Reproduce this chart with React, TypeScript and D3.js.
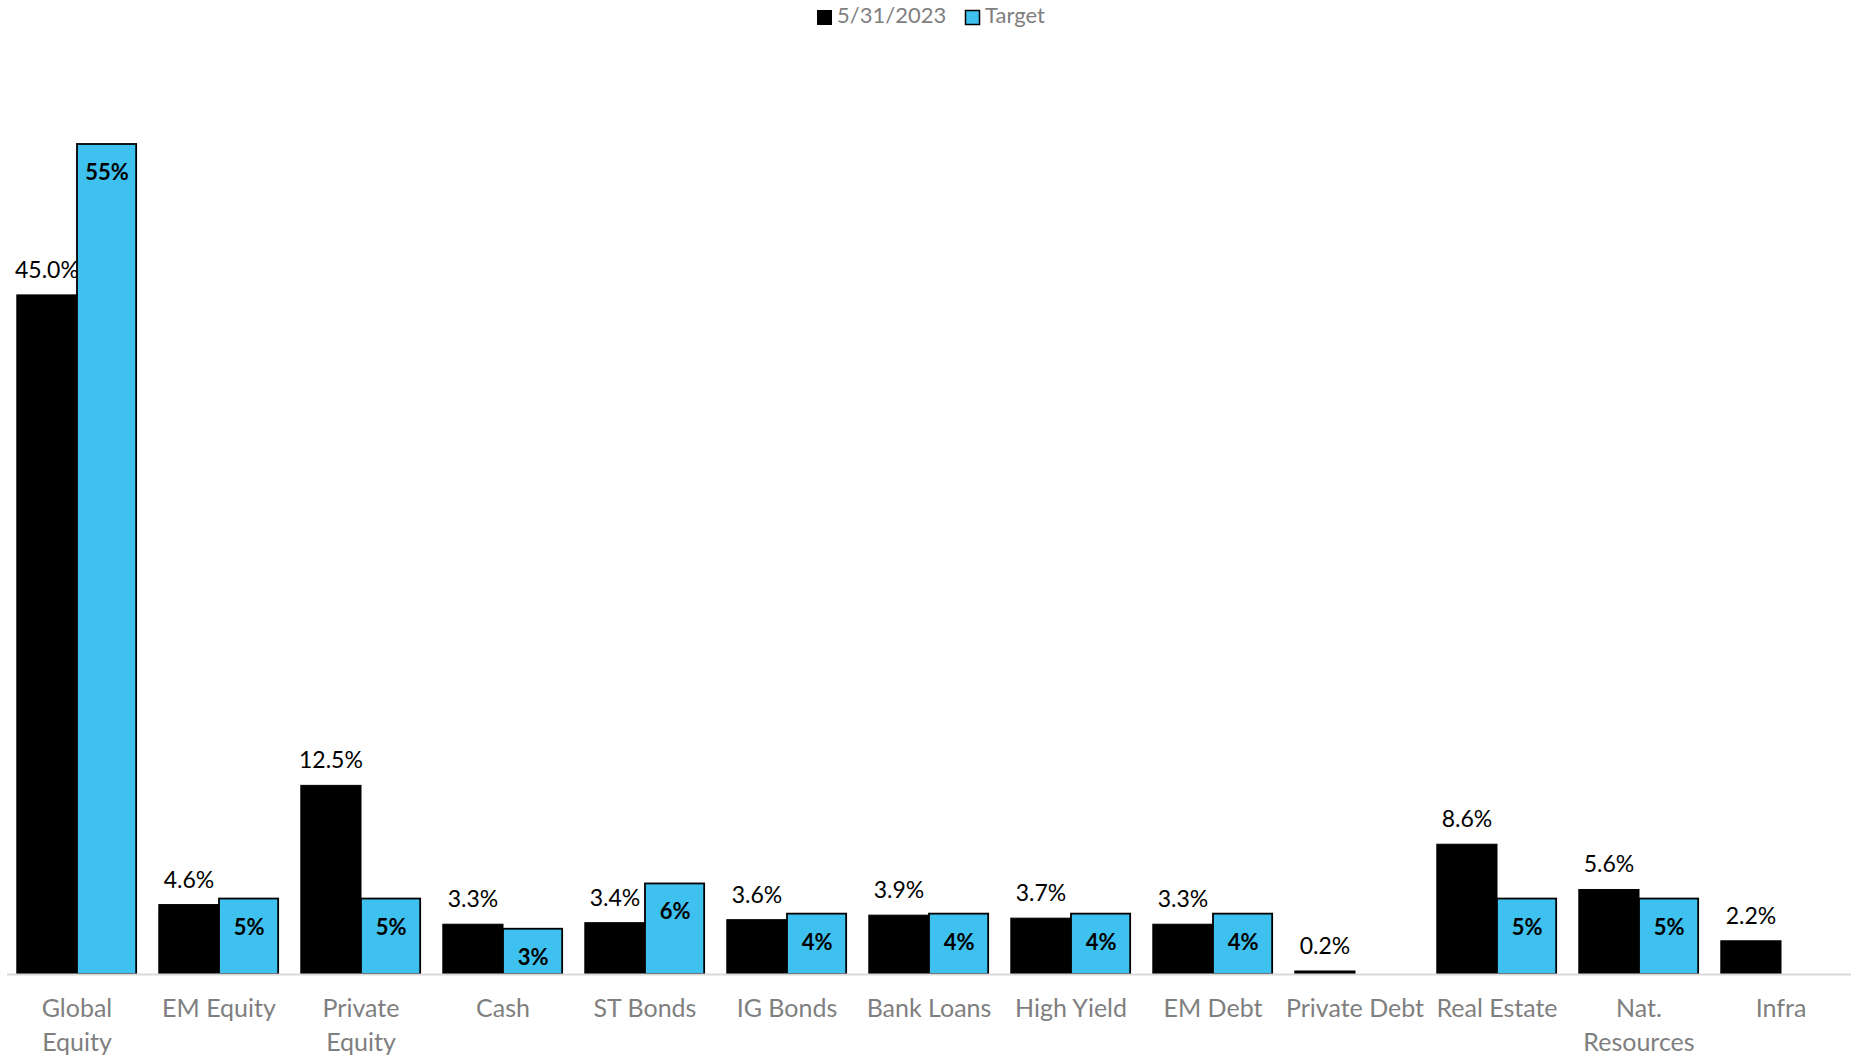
import React from "react";
import * as d3 from "d3";

const categories: string[][] = [
  ["Global", "Equity"],
  ["EM Equity"],
  ["Private", "Equity"],
  ["Cash"],
  ["ST Bonds"],
  ["IG Bonds"],
  ["Bank Loans"],
  ["High Yield"],
  ["EM Debt"],
  ["Private Debt"],
  ["Real Estate"],
  ["Nat.", "Resources"],
  ["Infra"],
];
const currentValues: number[] = [45.0, 4.6, 12.5, 3.3, 3.4, 3.6, 3.9, 3.7, 3.3, 0.2, 8.6, 5.6, 2.2];
const targetValues: (number | null)[] = [55, 5, 5, 3, 6, 4, 4, 4, 4, null, 5, 5, null];
const seriesNames = ["5/31/2023", "Target"];

const W = 1858;
const H = 1058;
const BLUE = "#3FC1F0";
const FONT = "Lato, 'Open Sans', sans-serif";

export default function App() {
  const keys = categories.map((c) => c.join(" "));
  const x0 = d3.scaleBand<string>().domain(keys).range([6, 1852]).padding(0);
  const x1 = d3
    .scaleBand<string>()
    .domain(["cur", "tgt"])
    .range([0, x0.step()])
    .paddingInner(0)
    .paddingOuter(0.18);
  const y = d3.scaleLinear().domain([0, 55]).range([974, 144]);
  const bw = x1.bandwidth();

  return (
    <svg
      width={W}
      height={H}
      style={{ position: "absolute", left: 0, top: 0, background: "#fff" }}
      fontFamily={FONT}
    >
      <rect x={0} y={0} width={W} height={H} fill="#fff" />
      {/* legend */}
      <g>
        <rect x={817} y={10} width={15} height={15} fill="#000" />
        <text x={837} y={23} fontSize={22} fill="#7f7f7f">
          {seriesNames[0]}
        </text>
        <rect x={965.5} y={10.5} width={14} height={14} fill={BLUE} stroke="#000" strokeWidth={1.5} />
        <text x={985} y={23} fontSize={22} fill="#7f7f7f">
          {seriesNames[1]}
        </text>
      </g>
      {/* bars */}
      {keys.map((k, i) => {
        const gx = x0(k)!;
        const cv = currentValues[i];
        const tv = targetValues[i];
        const cx = gx + x1("cur")!;
        const tx = gx + x1("tgt")!;
        return (
          <g key={k}>
            <rect x={cx} y={y(cv)} width={bw} height={y(0) - y(cv)} fill="#000" stroke="#000" strokeWidth={1} />
            <text x={cx + bw / 2} y={y(cv) - 17} textAnchor="middle" fontSize={23} fill="#000">
              {cv.toFixed(1) + "%"}
            </text>
            {tv !== null && (
              <>
                <rect
                  x={tx}
                  y={y(tv)}
                  width={bw - 1}
                  height={y(0) - y(tv)}
                  fill={BLUE}
                  stroke="#000"
                  strokeWidth={1.8}
                />
                <text
                  x={tx + bw / 2}
                  y={y(tv) + 36}
                  textAnchor="middle"
                  fontSize={22}
                  fontWeight="bold"
                  fill="#000"
                >
                  {tv.toFixed(0) + "%"}
                </text>
              </>
            )}
          </g>
        );
      })}
      {/* axis */}
      <line x1={7} x2={1851} y1={y(0) + 0.5} y2={y(0) + 0.5} stroke="#d9d9d9" strokeWidth={2} />
      {/* category labels */}
      {keys.map((k, i) => (
        <text
          key={"l" + k}
          x={x0(k)! + x0.step() / 2}
          y={1017}
          textAnchor="middle"
          fontSize={25}
          fill="#7f7f7f"
        >
          {categories[i].map((line, j) => (
            <tspan key={j} x={x0(k)! + x0.step() / 2} dy={j === 0 ? 0 : 34}>
              {line}
            </tspan>
          ))}
        </text>
      ))}
    </svg>
  );
}
